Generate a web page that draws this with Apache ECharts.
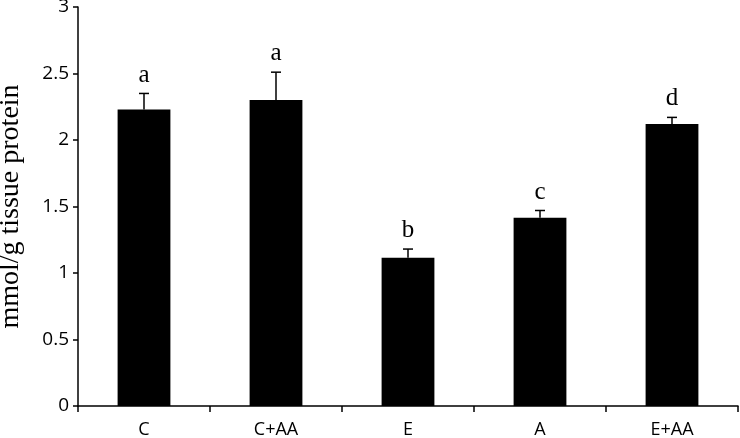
<!DOCTYPE html>
<html>
<head>
<meta charset="utf-8">
<script src="https://cdn.jsdelivr.net/npm/echarts@6/dist/echarts.min.js"></script>
<style>
  html, body { margin: 0; padding: 0; background: #fff; }
  #chart1 { width: 740px; height: 438px; }
</style>
</head>
<body>
<div id="chart1"></div>
<script>
// data
var categories = ['C', 'C+AA', 'E', 'A', 'E+AA'];
var means = [2.23, 2.30, 1.115, 1.415, 2.12];
var errTops = [2.35, 2.51, 1.18, 1.47, 2.17];
var letters = ['a', 'a', 'b', 'c', 'd'];
var yTicks = [0, 0.5, 1, 1.5, 2, 2.5, 3];

var chartDom = document.getElementById('chart1');
var myChart = echarts.init(chartDom);
var option;

var errData = categories.map(function (c, i) {
    return [i, means[i], errTops[i], letters[i]];
});

option = {
    animation: false,
    grid: {left: 78, right: 2, top: 7, bottom: 32, containLabel: false, outerBoundsMode: 'none'},
    xAxis: {
        type: 'category',
        data: categories,
        axisLine: {lineStyle: {color: '#000', width: 1.5}},
        axisTick: {show: true, length: 6, inside: false, lineStyle: {color: '#000', width: 1.5}},
        axisLabel: {color: '#000', fontFamily: 'Open Sans', fontSize: 18, margin: 15}
    },
    yAxis: {
        type: 'value',
        min: 0,
        max: 3,
        interval: 0.5,
        name: 'mmol/g tissue protein',
        nameLocation: 'middle',
        nameGap: 53,
        nameTextStyle: {color: '#000', fontFamily: 'Liberation Serif', fontSize: 28},
        axisLine: {show: true, lineStyle: {color: '#000', width: 1.5}},
        axisTick: {show: true, length: 5, lineStyle: {color: '#000', width: 1.5}},
        splitLine: {show: false},
        axisLabel: {
            color: '#000', fontFamily: 'Open Sans', fontSize: 19, margin: 9,
            formatter: function (v) { return yTicks.indexOf(v) >= 0 ? String(v) : ''; }
        }
    },
    series: [
        {
            type: 'bar',
            data: means,
            barWidth: '40%',
            itemStyle: {color: '#000'}
        },
        {
            type: 'custom',
            data: errData,
            z: 5,
            renderItem: function (params, api) {
                var x = api.value(0);
                var base = api.coord([x, api.value(1)]);
                var top = api.coord([x, api.value(2)]);
                var half = 5;
                return {
                    type: 'group',
                    children: [
                        {type: 'line', shape: {x1: base[0], y1: base[1], x2: top[0], y2: top[1]},
                         style: {stroke: '#000', lineWidth: 1.5}},
                        {type: 'line', shape: {x1: top[0] - half, y1: top[1], x2: top[0] + half, y2: top[1]},
                         style: {stroke: '#000', lineWidth: 1.5}},
                        {type: 'text', x: top[0], y: top[1] - 6,
                         style: {text: letters[params.dataIndex], fill: '#000', fontFamily: 'Liberation Serif',
                                 fontSize: 25, align: 'center', verticalAlign: 'bottom'}}
                    ]
                };
            }
        }
    ]
};

option && myChart.setOption(option);
</script>
</body>
</html>
